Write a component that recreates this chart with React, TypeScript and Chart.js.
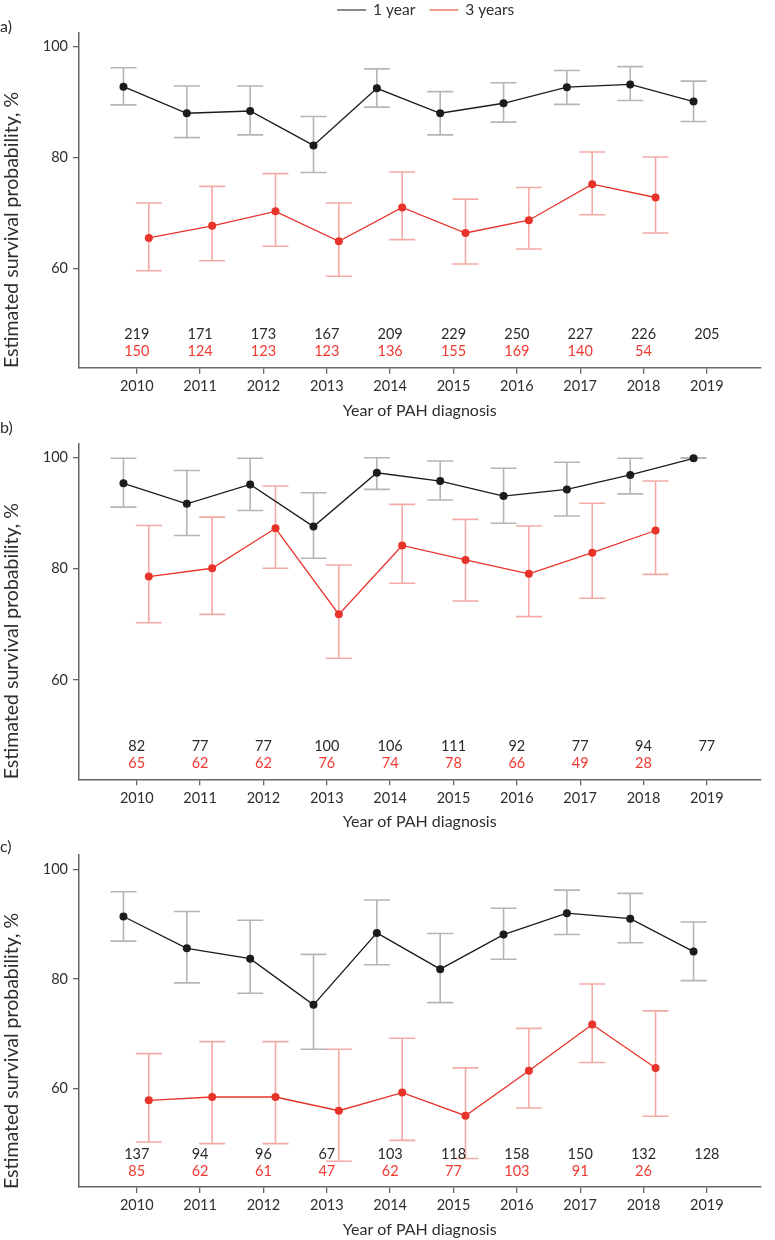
import React, { useEffect, useRef } from "react";
import { Chart, registerables } from "chart.js";

Chart.register(...registerables);

// ---------- data ----------
const years = [2010, 2011, 2012, 2013, 2014, 2015, 2016, 2017, 2018, 2019];
const seriesNames = ["1 year", "3 years"];
const yTicks = [60, 80, 100];
const xTitle = "Year of PAH diagnosis";
const yTitle = "Estimated survival probability, %";
const panelLetters = ["a)", "b)", "c)"];

// panel a
const aOneYear = [92.8, 88.0, 88.4, 82.2, 92.5, 88.0, 89.8, 92.7, 93.2, 90.1];
const aOneYearLow = [89.5, 83.6, 84.1, 77.3, 89.1, 84.1, 86.4, 89.6, 90.3, 86.5];
const aOneYearHigh = [96.2, 92.9, 92.9, 87.4, 96.0, 91.9, 93.5, 95.7, 96.4, 93.8];
const aThreeYear = [65.5, 67.7, 70.3, 64.9, 71.0, 66.4, 68.7, 75.2, 72.8];
const aThreeYearLow = [59.6, 61.4, 64.0, 58.6, 65.2, 60.8, 63.5, 69.7, 66.4];
const aThreeYearHigh = [71.8, 74.8, 77.1, 71.8, 77.4, 72.5, 74.6, 81.0, 80.1];
const aOneYearN = [219, 171, 173, 167, 209, 229, 250, 227, 226, 205];
const aThreeYearN = [150, 124, 123, 123, 136, 155, 169, 140, 54];

// panel b
const bOneYear = [95.4, 91.7, 95.2, 87.6, 97.3, 95.8, 93.1, 94.3, 96.9, 99.9];
const bOneYearLow = [91.1, 86.0, 90.5, 81.9, 94.3, 92.4, 88.2, 89.5, 93.5, 99.9];
const bOneYearHigh = [99.9, 97.7, 99.9, 93.7, 100.0, 99.4, 98.1, 99.2, 99.9, 100.0];
const bThreeYear = [78.6, 80.1, 87.3, 71.8, 84.2, 81.6, 79.1, 82.9, 86.9];
const bThreeYearLow = [70.3, 71.8, 80.1, 63.9, 77.4, 74.2, 71.4, 74.7, 79.0];
const bThreeYearHigh = [87.8, 89.3, 94.9, 80.7, 91.6, 88.9, 87.7, 91.8, 95.8];
const bOneYearN = [82, 77, 77, 100, 106, 111, 92, 77, 94, 77];
const bThreeYearN = [65, 62, 62, 76, 74, 78, 66, 49, 28];

// panel c
const cOneYear = [91.4, 85.6, 83.7, 75.3, 88.4, 81.8, 88.1, 92.0, 91.0, 85.0];
const cOneYearLow = [86.9, 79.3, 77.4, 67.2, 82.6, 75.7, 83.6, 88.1, 86.6, 79.7];
const cOneYearHigh = [95.9, 92.3, 90.7, 84.5, 94.4, 88.3, 92.9, 96.2, 95.6, 90.4];
const cThreeYear = [57.9, 58.5, 58.5, 56.0, 59.3, 55.1, 63.3, 71.7, 63.8];
const cThreeYearLow = [50.3, 50.0, 50.0, 46.8, 50.6, 47.3, 56.5, 64.8, 55.0];
const cThreeYearHigh = [66.4, 68.6, 68.6, 67.2, 69.2, 63.8, 71.0, 79.1, 74.2];
const cOneYearN = [137, 94, 96, 67, 103, 118, 158, 150, 132, 128];
const cThreeYearN = [85, 62, 61, 47, 62, 77, 103, 91, 26];

// ---------- layout / style ----------
const W = 775;
const H = 425;
const FONT = "Lato";
const X_MIN = 2009.088;
const X_MAX = 2019.845;
const Y_MIN = 42.1;
const Y_MAX = 102.6;
const OFFSET_ONE = -0.21;
const OFFSET_THREE = 0.19;
const BLACK = "#1c1c1c";
const BLACK_ERR = "#b5b5b5";
const RED = "#e8332b";
const RED_ERR = "#f4aaa4";
const TEXT = "#2e2e2e";
const AXIS = "#666666";

type PanelProps = {
  letter: string;
  one: number[];
  oneLow: number[];
  oneHigh: number[];
  three: number[];
  threeLow: number[];
  threeHigh: number[];
  nOne: number[];
  nThree: number[];
  top: number;
  plotTop: number;
  plotBottom: number;
  letterY: number;
  legend: boolean;
};

function pts(xs: number[], ys: number[]) {
  return ys.map((v, i) => ({ x: xs[i], y: v }));
}
function whiskers(xs: number[], lo: number[], hi: number[]) {
  const out: any[] = [];
  lo.forEach((l, i) => {
    out.push({ x: xs[i], y: l }, { x: xs[i], y: hi[i] }, { x: xs[i], y: null });
  });
  return out;
}
function caps(xs: number[], lo: number[], hi: number[]) {
  const out: any[] = [];
  lo.forEach((l, i) => {
    out.push({ x: xs[i], y: l }, { x: xs[i], y: hi[i] });
  });
  return out;
}

function Panel(p: PanelProps) {
  const ref = useRef<HTMLCanvasElement>(null);
  useEffect(() => {
    const canvas = ref.current;
    if (!canvas) return;
    const xOne = years.map((y) => y + OFFSET_ONE);
    const xThree = years.slice(0, p.three.length).map((y) => y + OFFSET_THREE);

    const overlay = {
      id: "overlay",
      afterDraw(chart: any) {
        const { ctx, chartArea } = chart;
        const xs = chart.scales.x;
        ctx.save();
        // counts
        ctx.font = `14.5px ${FONT}`;
        ctx.textAlign = "center";
        ctx.textBaseline = "middle";
        years.forEach((yr, i) => {
          const x = xs.getPixelForValue(yr);
          if (p.nOne[i] !== undefined) {
            ctx.fillStyle = "#2a2a2a";
            ctx.fillText(String(p.nOne[i]), x, chartArea.bottom - 33);
          }
          if (p.nThree[i] !== undefined) {
            ctx.fillStyle = "#f03a31";
            ctx.fillText(String(p.nThree[i]), x, chartArea.bottom - 16);
          }
        });
        // panel letter
        ctx.fillStyle = TEXT;
        ctx.font = `16px ${FONT}`;
        ctx.textAlign = "left";
        ctx.fillText(p.letter, 0, p.letterY);
        // y title
        ctx.save();
        ctx.translate(12, (chartArea.top + chartArea.bottom) / 2 + 30);
        ctx.rotate(-Math.PI / 2);
        ctx.font = `19.5px ${FONT}`;
        ctx.textAlign = "center";
        ctx.fillText(yTitle, 0, 0);
        ctx.restore();
        // legend
        if (p.legend) {
          ctx.font = `15.5px ${FONT}`;
          const lineLen = 29;
          const gap = 7;
          const sep = 14;
          const w1 = ctx.measureText(seriesNames[0]).width;
          const w2 = ctx.measureText(seriesNames[1]).width;
          const total = lineLen + gap + w1 + sep + lineLen + gap + w2;
          let x = (chartArea.left + chartArea.right) / 2 + 6 - total / 2;
          const y = 10;
          const items = [
            { t: seriesNames[0], c: "#8a8a8a", w: w1 },
            { t: seriesNames[1], c: "#f39a93", w: w2 },
          ];
          items.forEach((it) => {
            ctx.strokeStyle = it.c;
            ctx.lineWidth = 2;
            ctx.beginPath();
            ctx.moveTo(x, y);
            ctx.lineTo(x + lineLen, y);
            ctx.stroke();
            x += lineLen + gap;
            ctx.fillStyle = TEXT;
            ctx.textAlign = "left";
            ctx.fillText(it.t, x, y);
            x += it.w + sep;
          });
        }
        ctx.restore();
      },
    };

    const xAxisHeight = H - p.plotBottom;
    const titleCenterFromBottom = H - (p.plotBottom + 43);
    const chart = new Chart(canvas, {
      type: "line",
      data: {
        datasets: [
          {
            label: seriesNames[0],
            data: pts(xOne, p.one),
            borderColor: BLACK,
            backgroundColor: BLACK,
            borderWidth: 1.3,
            pointRadius: 4,
            pointBackgroundColor: BLACK,
            pointBorderWidth: 0,
            tension: 0,
          },
          {
            label: seriesNames[1],
            data: pts(xThree, p.three),
            borderColor: RED,
            backgroundColor: RED,
            borderWidth: 1.3,
            pointRadius: 4,
            pointBackgroundColor: RED,
            pointBorderWidth: 0,
            tension: 0,
          },
          {
            label: "1 year CI caps",
            data: caps(xOne, p.oneLow, p.oneHigh),
            showLine: false,
            pointStyle: "line",
            pointRadius: 13,
            pointBorderColor: BLACK_ERR,
            pointBorderWidth: 1.6,
          },
          {
            label: "1 year CI",
            data: whiskers(xOne, p.oneLow, p.oneHigh),
            borderColor: BLACK_ERR,
            borderWidth: 1.6,
            pointRadius: 0,
            spanGaps: false,
          },
          {
            label: "3 years CI caps",
            data: caps(xThree, p.threeLow, p.threeHigh),
            showLine: false,
            pointStyle: "line",
            pointRadius: 13,
            pointBorderColor: RED_ERR,
            pointBorderWidth: 1.6,
          },
          {
            label: "3 years CI",
            data: whiskers(xThree, p.threeLow, p.threeHigh),
            borderColor: RED_ERR,
            borderWidth: 1.6,
            pointRadius: 0,
            spanGaps: false,
          },
        ] as any,
      },
      options: {
        animation: false,
        responsive: false,
        events: [],
        layout: { padding: { top: p.plotTop, left: 0, right: 0, bottom: 0 } },
        plugins: {
          legend: { display: false },
          tooltip: { enabled: false },
          title: { display: false },
        },
        scales: {
          x: {
            type: "linear",
            position: "bottom",
            min: X_MIN,
            max: X_MAX,
            afterBuildTicks: (s: any) => {
              s.ticks = years.map((v) => ({ value: v }));
            },
            afterFit: (s: any) => {
              s.height = xAxisHeight;
            },
            ticks: {
              autoSkip: false,
              maxRotation: 0,
              padding: 4,
              color: TEXT,
              font: { family: FONT, size: 14.5 },
              callback: (v: any) => String(v),
            },
            grid: {
              display: true,
              drawOnChartArea: false,
              drawTicks: true,
              tickLength: 6,
              color: AXIS,
              lineWidth: 1.3,
            },
            border: { display: true, color: AXIS, width: 1.5 },
            title: {
              display: true,
              text: xTitle,
              color: TEXT,
              font: { family: FONT, size: 16, lineHeight: 1 },
              padding: { top: 0, bottom: titleCenterFromBottom - 8 },
            },
          },
          y: {
            type: "linear",
            min: Y_MIN,
            max: Y_MAX,
            afterBuildTicks: (s: any) => {
              s.ticks = yTicks.map((v) => ({ value: v }));
            },
            afterFit: (s: any) => {
              s.width = 79;
            },
            ticks: {
              padding: 5,
              color: TEXT,
              font: { family: FONT, size: 14.5 },
            },
            grid: {
              display: true,
              drawOnChartArea: false,
              drawTicks: true,
              tickLength: 6,
              color: AXIS,
              lineWidth: 1.3,
            },
            border: { display: true, color: AXIS, width: 1.5 },
          },
        },
      } as any,
      plugins: [overlay],
    });
    return () => chart.destroy();
  }, []);
  return (
    <div style={{ position: "absolute", left: 0, top: p.top, width: W, height: H }}>
      <canvas ref={ref} width={W} height={H} style={{ display: "block", width: W, height: H }} />
    </div>
  );
}

export default function App() {
  return (
    <div
      style={{
        position: "absolute",
        left: 0,
        top: 0,
        width: W,
        height: 1240,
        overflow: "hidden",
        background: "#ffffff",
      }}
    >
      <Panel
        letter={panelLetters[0]}
        one={aOneYear}
        oneLow={aOneYearLow}
        oneHigh={aOneYearHigh}
        three={aThreeYear}
        threeLow={aThreeYearLow}
        threeHigh={aThreeYearHigh}
        nOne={aOneYearN}
        nThree={aThreeYearN}
        top={0}
        plotTop={32.3}
        plotBottom={367.7}
        letterY={27}
        legend={true}
      />
      <Panel
        letter={panelLetters[1]}
        one={bOneYear}
        oneLow={bOneYearLow}
        oneHigh={bOneYearHigh}
        three={bThreeYear}
        threeLow={bThreeYearLow}
        threeHigh={bThreeYearHigh}
        nOne={bOneYearN}
        nThree={bThreeYearN}
        top={411}
        plotTop={32.3}
        plotBottom={368.3}
        letterY={17}
        legend={false}
      />
      <Panel
        letter={panelLetters[2]}
        one={cOneYear}
        oneLow={cOneYearLow}
        oneHigh={cOneYearHigh}
        three={cThreeYear}
        threeLow={cThreeYearLow}
        threeHigh={cThreeYearHigh}
        nOne={cOneYearN}
        nThree={cThreeYearN}
        top={815}
        plotTop={40}
        plotBottom={372}
        letterY={32}
        legend={false}
      />
    </div>
  );
}
